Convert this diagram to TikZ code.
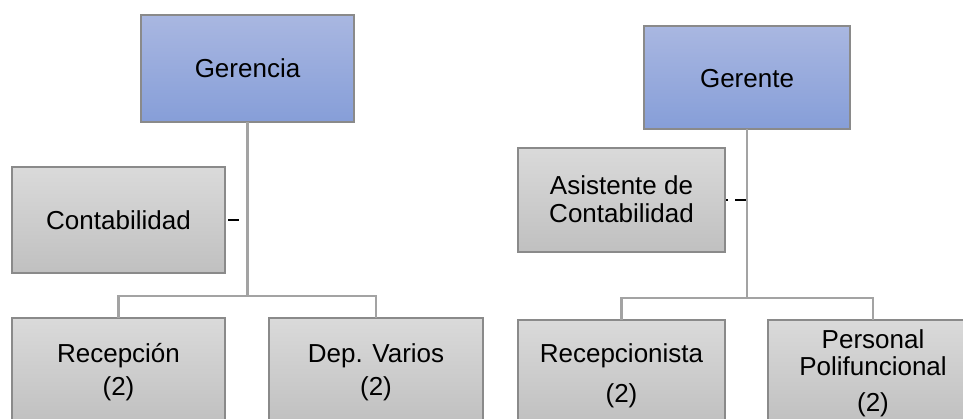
\documentclass[tikz,border=0pt]{standalone}
\usepackage{fontspec}
\setmainfont{Liberation Sans}
\usetikzlibrary{calc}
\def\pxu{0.75pt}
\definecolor{bluetop}{HTML}{A9B7E1}
\definecolor{bluebot}{HTML}{869ED8}
\definecolor{graytop}{HTML}{DADADA}
\definecolor{graybot}{HTML}{C0C0C0}
\definecolor{boxline}{HTML}{8A8A8A}
\definecolor{connline}{HTML}{A3A3A3}
\begin{document}
\begin{tikzpicture}[x=0.75pt,y=-0.75pt,
  bluebox/.style={draw=boxline,line width=1.5pt,rectangle,inner sep=0pt,outer sep=0pt,
    top color=bluetop,bottom color=bluebot},
  graybox/.style={draw=boxline,line width=1.5pt,rectangle,inner sep=0pt,outer sep=0pt,
    top color=graytop,bottom color=graybot},
  lbl/.style={anchor=base,inner sep=0pt,font=\fontsize{19.5pt}{21pt}\selectfont,text=black},
  conn/.style={draw=connline,line width=1.6pt},
  stub/.style={draw=black,line width=1.6pt}]
\useasboundingbox (0,0) rectangle (963,418);
\clip (0,0) rectangle (963,418);
\fill[white] (0,0) rectangle (963,418);
% left chart boxes
\node[bluebox,minimum width=213*\pxu,minimum height=107*\pxu] (ger) at (247.5,68.5) {};
\node[graybox,minimum width=213*\pxu,minimum height=106*\pxu] (cont) at (118.5,220) {};
\node[graybox,minimum width=213*\pxu,minimum height=106*\pxu] (rec) at (118.5,371) {};
\node[graybox,minimum width=214*\pxu,minimum height=106*\pxu] (dep) at (376,371) {};
% right chart boxes
\node[bluebox,minimum width=206*\pxu,minimum height=103*\pxu] (gte) at (747,77.5) {};
\node[graybox,minimum width=207*\pxu,minimum height=104*\pxu] (asis) at (621.5,200) {};
\node[graybox,minimum width=207*\pxu,minimum height=104*\pxu] (recp) at (621.5,372) {};
\node[graybox,minimum width=210*\pxu,minimum height=104*\pxu] (pers) at (873,372) {};
% connectors left
\coordinate (jL) at (247.5,296);
\draw[conn] (ger.south) -- (jL);
\draw[conn] (rec.north) |- (jL) -| (dep.north);
\draw[stub] ([xshift=3*\pxu]cont.east) -- ([xshift=14*\pxu]cont.east);
% connectors right
\coordinate (jR) at (747,298);
\draw[conn] (gte.south) -- (jR);
\draw[conn] (recp.north) |- (jR) -| (pers.north);
\draw[stub] ([xshift=1*\pxu]asis.east) -- ([xshift=3*\pxu]asis.east);
\draw[stub] ([xshift=10*\pxu]asis.east) -- ([xshift=21*\pxu]asis.east);
% labels
\node[lbl] (tger) at (247.5,77) {Gerencia};
\node[lbl] (tcont) at (118.5,229) {Contabilidad};
\node[lbl] (trec1) at (118.5,362) {Recepción};
\node[lbl] (trec2) at (118.5,395) {(2)};
\node[lbl] (tdep1) at (376,362) {Dep. Varios};
\node[lbl] (tdep2) at (376,395) {(2)};
\node[lbl] (tgte) at (747,87) {Gerente};
\node[lbl] (tasis1) at (621.5,194) {Asistente de};
\node[lbl] (tasis2) at (621.5,222) {Contabilidad};
\node[lbl] (trecp1) at (621.5,362) {Recepcionista};
\node[lbl] (trecp2) at (621.5,402) {(2)};
\node[lbl] (tpers1) at (873,348) {Personal};
\node[lbl] (tpers2) at (873,375) {Polifuncional};
\node[lbl] (tpers3) at (873,411) {(2)};
\end{tikzpicture}
\end{document}
